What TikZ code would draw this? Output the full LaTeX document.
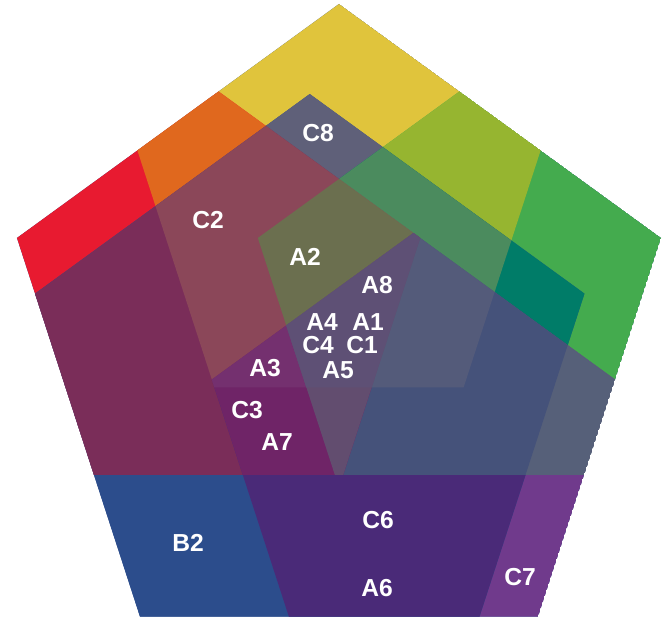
\documentclass[tikz,border=0pt]{standalone}
\usepackage{fontspec}
\setsansfont{Liberation Sans}
\usepackage{tikz}
\usetikzlibrary{positioning}
\definecolor{hueyellow}{HTML}{E0C43C}
\definecolor{hueorange}{HTML}{E0681E}
\definecolor{huered}{HTML}{E81A30}
\definecolor{huelime}{HTML}{96B530}
\definecolor{huegreen}{HTML}{44AB4E}
\definecolor{deepteal}{HTML}{007C68}
\definecolor{mutedgreen}{HTML}{4B8B5E}
\definecolor{slategray}{HTML}{5F6079}
\definecolor{mauve}{HTML}{8B4759}
\definecolor{maroon}{HTML}{7A2D59}
\definecolor{olive}{HTML}{6B6F4F}
\definecolor{dusk}{HTML}{5E5075}
\definecolor{plum}{HTML}{74306F}
\definecolor{grape}{HTML}{6F2467}
\definecolor{heather}{HTML}{624D6F}
\definecolor{bluegray}{HTML}{545B7A}
\definecolor{steel}{HTML}{45527A}
\definecolor{ashblue}{HTML}{566079}
\definecolor{indigo}{HTML}{4A2A78}
\definecolor{violet}{HTML}{703A8C}
\definecolor{cobalt}{HTML}{2C4D8C}
\tikzset{
  cellname/.style={text=white,font=\sffamily\bfseries\fontsize{14}{16}\selectfont,inner sep=0pt}
}
% regular pentagon, centre (#1,#2), circumradius #3
\newcommand\pent[3]{([shift={(#1,#2)}]90:#3) -- ([shift={(#1,#2)}]162:#3) -- ([shift={(#1,#2)}]234:#3) -- ([shift={(#1,#2)}]306:#3) -- ([shift={(#1,#2)}]18:#3) -- cycle}
\newcommand\pouter{\pent{0}{0}{6.772}}
\newcommand\ptop{\pent{0}{2.5327}{4.2393}}
\newcommand\pleft{\pent{-2.4087}{0.7827}{4.2393}}
\newcommand\pright{\pent{2.4087}{0.7827}{4.2393}}
\newcommand\plow{\pent{1.4887}{-2.0490}{4.2393}}
\newcommand\pbig{\pent{-0.5851}{-0.8054}{5.7765}}

\begin{document}
\begin{tikzpicture}
  \useasboundingbox (-6.78,-5.468) rectangle (6.48,6.852);
  \begin{scope}
    \clip \pouter;
    \fill[cobalt] \pouter;
    % single pentagons
    \fill[hueyellow] \ptop;
    \fill[huered] \pleft;
    \fill[huegreen] \pright;
    \fill[violet] \plow;
    \fill[cobalt] \pbig;
    % two
    \begin{scope}\clip \ptop; \fill[hueorange] \pleft; \end{scope}
    \begin{scope}\clip \ptop; \fill[huelime] \pright; \end{scope}
    \begin{scope}\clip \pbig; \fill[slategray] \ptop; \end{scope}
    \begin{scope}\clip \pbig; \fill[maroon] \pleft; \end{scope}
    \begin{scope}\clip \pbig; \fill[deepteal] \pright; \end{scope}
    \begin{scope}\clip \pbig; \fill[indigo] \plow; \end{scope}
    \begin{scope}\clip \pright; \fill[ashblue] \plow; \end{scope}
    % three
    \begin{scope}\clip \pbig; \clip \pright; \fill[mutedgreen] \ptop; \end{scope}
    \begin{scope}\clip \pbig; \clip \pleft; \fill[mauve] \ptop; \end{scope}
    \begin{scope}\clip \pbig; \clip \pright; \fill[steel] \plow; \end{scope}
    \begin{scope}\clip \pbig; \clip \pleft; \fill[grape] \plow; \end{scope}
    % four
    \begin{scope}\clip \pbig; \clip \pright; \clip \pleft; \fill[olive] \ptop; \end{scope}
    \begin{scope}\clip \pbig; \clip \pleft; \clip \plow; \fill[plum] \ptop; \end{scope}
    \begin{scope}\clip \pbig; \clip \pright; \clip \plow; \fill[bluegray] \ptop; \end{scope}
    \begin{scope}\clip \pbig; \clip \pright; \clip \pleft; \fill[heather] \plow; \end{scope}
    % all five
    \begin{scope}\clip \pbig; \clip \pright; \clip \pleft; \clip \plow; \fill[dusk] \ptop; \end{scope}
  \end{scope}

  \node[cellname] (c8) at (-0.42,4.19) {C8};
  \node[cellname] (c2) at (-2.62,2.45) {C2};
  \node[cellname] (a2) at (-0.68,1.71) {A2};
  \node[cellname] (a8) at (0.76,1.15) {A8};
  \node[cellname] (a4) at (-0.34,0.41) {A4};
  \node[cellname] (a1) at (0.58,0.41) {A1};
  \node[cellname] (c4) at (-0.42,-0.05) {C4};
  \node[cellname] (c1) at (0.46,-0.05) {C1};
  \node[cellname] (a3) at (-1.48,-0.51) {A3};
  \node[cellname] (a5) at (-0.02,-0.55) {A5};
  \node[cellname] (c3) at (-1.84,-1.35) {C3};
  \node[cellname] (a7) at (-1.24,-1.99) {A7};
  \node[cellname] (c6) at (0.78,-3.55) {C6};
  \node[cellname] (a6) at (0.76,-4.91) {A6};
  \node[cellname] (c7) at (3.62,-4.69) {C7};
  \node[cellname] (b2) at (-3.02,-4.01) {B2};
\end{tikzpicture}
\end{document}
